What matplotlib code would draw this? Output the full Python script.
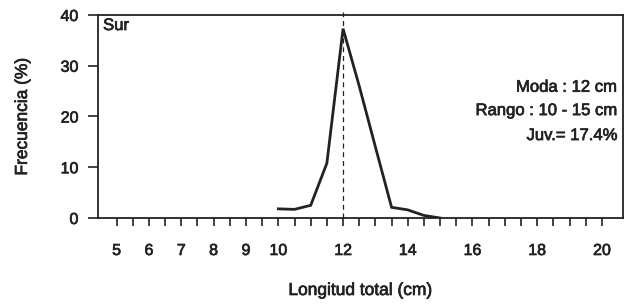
import matplotlib
matplotlib.use('Agg')
import numpy as np
from matplotlib import pyplot as plt
import matplotlib.patheffects as pe

plt.rcParams['font.family'] = ['Liberation Sans', 'DejaVu Sans']

# length classes (cm) and frequency (%)
longitud = [10.0, 10.5, 11.0, 11.5, 12.0, 12.5, 13.0, 13.5, 14.0, 14.5, 15.0]
frecuencia = [1.8, 1.7, 2.5, 10.8, 37.3, 26.0, 14.0, 2.1, 1.6, 0.5, 0.0]

moda = 12
x_ticks = np.arange(5, 20.5, 0.5)
x_labels = [5, 6, 7, 8, 9, 10, 12, 14, 16, 18, 20]
y_ticks = [0, 10, 20, 30, 40]

col = '#222222'
thick = [pe.withStroke(linewidth=0.5, foreground=col)]

fig = plt.figure(figsize=(6.27, 3.06), dpi=100)
ax = fig.add_axes([0.156, 0.2876, 0.838, 0.6634])

ax.plot(longitud, frecuencia, color=col, lw=2.0, solid_joinstyle='miter')
ax.plot([moda, moda], [0, 40.5], color=col, lw=0.9, ls=(0, (4, 3)), clip_on=False)

ax.set_xlim(4.42, 20.66)
ax.set_ylim(0, 40)

ax.set_xticks(x_ticks)
ax.set_xticklabels([str(int(t)) if t in x_labels else '' for t in x_ticks])
ax.set_yticks(y_ticks)

ax.tick_params(axis='x', direction='out', length=6, width=1.2, colors=col,
               labelsize=11.5, pad=12)
ax.tick_params(axis='y', direction='out', length=7, width=1.2, colors=col,
               labelsize=11.5, pad=7)
for lab in ax.get_xticklabels() + ax.get_yticklabels():
    lab.set_path_effects(thick)

for s in ax.spines.values():
    s.set_color(col)
    s.set_linewidth(1.3)

ax.set_xlabel('Longitud total (cm)', fontsize=12.5, color=col, labelpad=18,
              path_effects=thick)
ax.set_ylabel('Frecuencia (%)', fontsize=12.5, color=col, labelpad=22,
              path_effects=thick)

ax.text(0.01, 0.985, 'Sur', transform=ax.transAxes, ha='left', va='top',
        fontsize=12, color=col, path_effects=thick)
ax.text(0.9886, 0.622, 'Moda : 12 cm', transform=ax.transAxes, ha='right',
        va='baseline', fontsize=12, color=col, path_effects=thick)
ax.text(0.9886, 0.507, 'Rango : 10 - 15 cm', transform=ax.transAxes, ha='right',
        va='baseline', fontsize=12, color=col, path_effects=thick)
ax.text(0.9886, 0.384, 'Juv.= 17.4%', transform=ax.transAxes, ha='right',
        va='baseline', fontsize=12, color=col, path_effects=thick)

fig.savefig('out.png', dpi=100)
